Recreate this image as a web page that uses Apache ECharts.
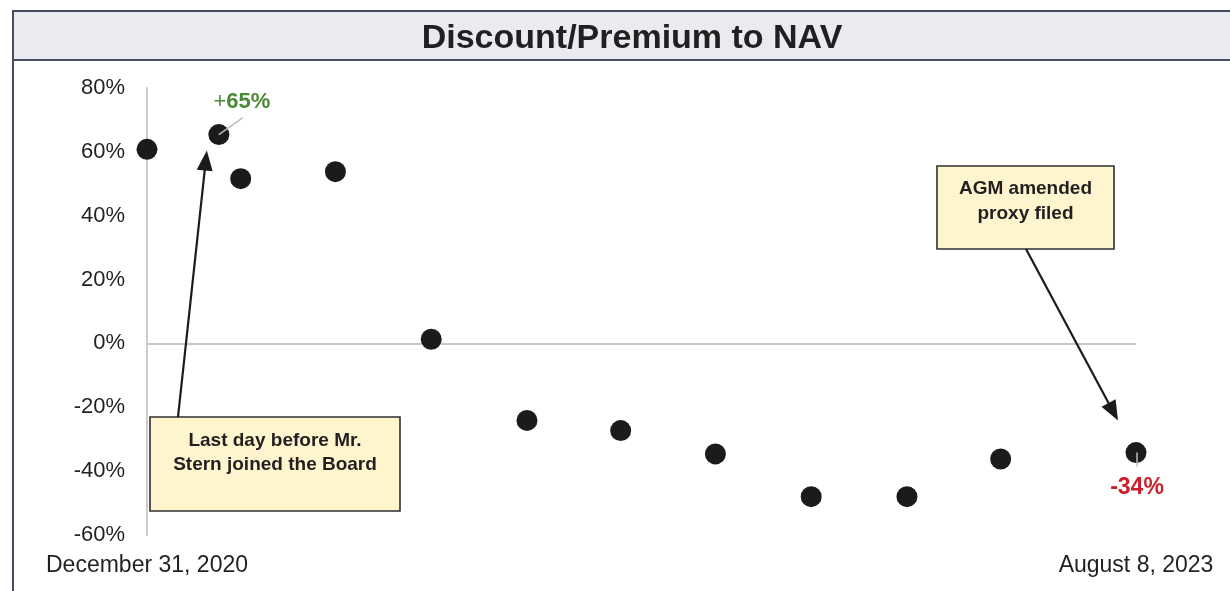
<!DOCTYPE html>
<html>
<head>
<meta charset="utf-8">
<script src="https://cdn.jsdelivr.net/npm/echarts@6/dist/echarts.min.js"></script>
<style>
html,body{margin:0;padding:0;background:#fff;}
#chart{width:1230px;height:591px;}
</style>
</head>
<body>
<div id="chart"></div>
<script>
// ---- data ----
const dates = ['2020-12-31','2021-03-10','2021-03-31','2021-06-30','2021-09-30','2021-12-31','2022-03-31','2022-06-30','2022-09-30','2022-12-31','2023-03-31','2023-08-08'];
const values = [60.8, 65.4, 51.6, 53.8, 1.3, -24.1, -27.3, -34.6, -48.0, -48.0, -36.2, -34.2];
const xRange = ['2020-12-31','2023-08-08'];
const xTickLabels = ['December 31, 2020','August 8, 2023'];
const yTicks = [-60, -40, -20, 0, 20, 40, 60, 80];
const highLabel = ['+', '65%'];
const lowLabel = '-34%';
const noteStern = ['Last day before Mr.', 'Stern joined the Board'];
const noteAGM = ['AGM amended', 'proxy filed'];
const titleText = 'Discount/Premium to NAV';

const ts = d => Date.parse(d + 'T00:00:00Z');
const xMin = ts(xRange[0]), xMax = ts(xRange[1]);
const FONT = '"Liberation Sans", Arial, sans-serif';

const seriesData = dates.map((d, i) => {
  const item = { value: [ts(d), values[i]] };
  if (i === 1) {
    item.label = {
      show: true, position: 'inside', offset: [23, -33],
      formatter: '{p|' + highLabel[0] + '}{b|' + highLabel[1] + '}',
      rich: {
        p: { fontFamily: FONT, fontSize: 22, color: '#4a8a36', fontWeight: 'normal' },
        b: { fontFamily: FONT, fontSize: 22, color: '#4a8a36', fontWeight: 'bold' }
      }
    };
  }
  if (i === dates.length - 1) {
    item.label = {
      show: true, position: 'inside', offset: [1, 35],
      formatter: lowLabel, fontFamily: FONT, fontSize: 23, fontWeight: 'bold', color: '#cc1f2b'
    };
  }
  return item;
});

const chart = echarts.init(document.getElementById('chart'), null, { renderer: 'canvas' });

const option = {
  animation: false,
  backgroundColor: '#ffffff',
  title: {
    text: titleText, left: 632, top: 22, textAlign: 'center', padding: 0,
    textStyle: { fontFamily: FONT, fontSize: 34, fontWeight: 'bold', color: '#231f20' }
  },
  grid: { left: 147, right: 94, top: 88, bottom: 56, containLabel: false, outerBoundsMode: 'none' },
  xAxis: {
    type: 'value', min: xMin, max: xMax, interval: xMax - xMin,
    axisLine: { show: false }, axisTick: { show: false }, splitLine: { show: false },
    axisLabel: {
      margin: 19, fontFamily: FONT, fontSize: 23, color: '#231f20',
      showMinLabel: true, showMaxLabel: true,
      formatter: v => (v === xMin ? xTickLabels[0] : (v === xMax ? xTickLabels[1] : ''))
    }
  },
  yAxis: {
    type: 'value', min: yTicks[0], max: yTicks[yTicks.length - 1], interval: 20,
    axisLine: { show: true, lineStyle: { color: '#cccccc', width: 2 } },
    axisTick: { show: false }, splitLine: { show: false },
    axisLabel: { margin: 22, fontFamily: FONT, fontSize: 22, color: '#231f20', formatter: '{value}%' }
  },
  series: [{
    type: 'scatter', symbol: 'circle', symbolSize: 21, z: 5,
    itemStyle: { color: '#1c1a1b', opacity: 1 },
    data: seriesData,
    markLine: {
      silent: true, symbol: ['none', 'none'], label: { show: false },
      lineStyle: { color: '#c8c8c8', width: 2, type: 'solid', opacity: 1 },
      data: [{ yAxis: 0 }]
    }
  }]
};
chart.setOption(option);

// ---- annotations (frame, notes, arrows, leader lines) ----
function arrow(tail, tip, id) {
  const dx = tip[0] - tail[0], dy = tip[1] - tail[1];
  const len = Math.sqrt(dx * dx + dy * dy);
  const ux = dx / len, uy = dy / len, px = -uy, py = ux;
  const L = 20, W = 8;
  const bx = tip[0] - ux * L, by = tip[1] - uy * L;
  return [
    { type: 'line', id: id + 'l', z: 20, shape: { x1: tail[0], y1: tail[1], x2: bx + ux * 2, y2: by + uy * 2 },
      style: { stroke: '#1c1a1b', lineWidth: 2.2 } },
    { type: 'polygon', id: id + 'h', z: 20, shape: { points: [tip, [bx + px * W, by + py * W], [bx - px * W, by - py * W]] },
      style: { fill: '#1c1a1b' } }
  ];
}
function note(x, y, w, h, lines, lineY, id) {
  return {
    type: 'group', id: id, z: 15, children: [
      { type: 'rect', shape: { x: x, y: y, width: w, height: h },
        style: { fill: '#fef4cd', stroke: '#2f2f2f', lineWidth: 1.6 } },
      ...lines.map((t, k) => ({
        type: 'text', x: x + w / 2, y: lineY[k],
        style: { text: t, fontFamily: FONT, fontSize: 19, fontWeight: 'bold', fill: '#231f20',
          textAlign: 'center', textVerticalAlign: 'middle' }
      }))
    ]
  };
}
const pHigh = chart.convertToPixel({ seriesIndex: 0 }, seriesData[1].value);
const pLow = chart.convertToPixel({ seriesIndex: 0 }, seriesData[dates.length - 1].value);

const graphics = [
  { type: 'rect', id: 'frame', z: -10, silent: true, shape: { x: 13, y: 11, width: 1300, height: 700 },
    style: { fill: '#ffffff', stroke: '#474d5c', lineWidth: 2 } },
  { type: 'rect', id: 'band', z: -9, silent: true, shape: { x: 13, y: 11, width: 1300, height: 49 },
    style: { fill: '#e9ebf0', stroke: '#474d5c', lineWidth: 2 } },
  { type: 'line', id: 'lead1', z: 10, shape: { x1: pHigh[0], y1: pHigh[1], x2: pHigh[0] + 24, y2: pHigh[1] - 17 },
    style: { stroke: '#bdbdbd', lineWidth: 1.5 } },
  { type: 'line', id: 'lead2', z: 10, shape: { x1: pLow[0] + 1, y1: pLow[1], x2: pLow[0] + 1, y2: pLow[1] + 14 },
    style: { stroke: '#bdbdbd', lineWidth: 1.5 } },
  note(150, 417, 250, 94, noteStern, [441, 465], 'n1'),
  note(937, 166, 177, 83, noteAGM, [189, 214], 'n2'),
  ...arrow([178, 417], [pHigh[0] - 12, pHigh[1] + 16], 'a1'),
  ...arrow([1026, 249], [pLow[0] - 18, pLow[1] - 32], 'a2')
];
chart.setOption({ graphic: graphics });
</script>
</body>
</html>
